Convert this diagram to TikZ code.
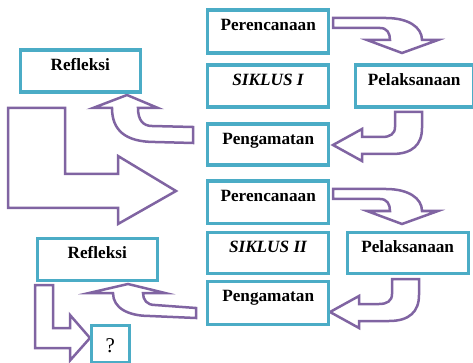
\documentclass[tikz,border=0pt]{standalone}
\usepackage{fontspec}
\setmainfont{Liberation Serif}
\usepackage{xcolor}
\usepackage{tikz}

\definecolor{kotakbiru}{RGB}{75,172,198}
\definecolor{panahungu}{RGB}{128,100,162}

\tikzset{
    kotak/.style={draw=kotakbiru, line width=3.4pt, anchor=north west, inner sep=0pt,
        text height=20.5pt, font=\fontsize{17.2}{20}\selectfont\bfseries},
    panah/.style={draw=panahungu, line width=2.5pt, fill=white, line join=miter}
}

\begin{document}
\begin{tikzpicture}[x=1pt, y=-1pt]
        \useasboundingbox (0,0) rectangle (473,363);

        \draw[panah] (8,108) -- (65,108) -- (65,174) -- (118,174) -- (118,156)
            -- (176,191) -- (118,224) -- (118,208) -- (8,208) -- cycle;
        \draw[panah] (35,285) -- (53,285) -- (53,328) -- (70,328) -- (70,315)
            -- (90,338) -- (70,360.5) -- (70,348) -- (35,348) -- cycle;

        \foreach \dy in {0, 171} {
            \draw[panah, shift={(0,\dy)}] (333,18) -- (386,18) .. controls (408,18) and (422,27) .. (422,40)
                -- (438,40) -- (402,53) -- (367,40) -- (390,40)
                .. controls (390,33) and (387,28) .. (380,28) -- (333,28) -- cycle;
        }
        \foreach \dx/\dy in {0/0, -3/167} {
            \draw[panah, shift={(\dx,\dy)}] (395,112) -- (395,127) .. controls (395,134) and (390,137) .. (382,137)
                -- (362,137) -- (362,129) -- (333,145) -- (362,161) -- (362,154) -- (392,154)
                .. controls (412,154) and (422,145) .. (422,128) -- (422,112) -- cycle;
        }
        \draw[panah] (193,127) -- (152,126) .. controls (143,126) and (138,120) .. (138,108)
            -- (158,108) -- (127,95) -- (93,108) -- (112,108)
            .. controls (112,130) and (125,142) .. (155,142) -- (193,143) -- cycle;
        \draw[panah] (196,308) -- (155,305) .. controls (147,305) and (143,300) .. (143,293)
            -- (165,293) -- (128,284) -- (89,293) -- (113,293)
            .. controls (113,308) and (128,316) .. (150,316) -- (196,318) -- cycle;

        \node[kotak, minimum width=121pt, text depth=22.5pt] (ren1) at (206,8.5) {Perencanaan};
        \node[kotak, minimum width=121pt, text depth=21.5pt] (siklus1) at (206,63.5) {\textit{SIKLUS I}};
        \node[kotak, minimum width=118pt, text depth=21.5pt] (lak1) at (353.5,63.5) {Pelaksanaan};
        \node[kotak, minimum width=121pt, text depth=20.5pt] (amat1) at (206,122.5) {Pengamatan};
        \node[kotak, minimum width=120pt, text depth=21.5pt] (ref1) at (18.5,48.5) {Refleksi};

        \node[kotak, minimum width=121pt, text depth=21.5pt] (ren2) at (206,179.5) {Perencanaan};
        \node[kotak, minimum width=121pt, text depth=21pt] (siklus2) at (206,230.5) {\textit{SIKLUS II}};
        \node[kotak, minimum width=121pt, text depth=21pt] (lak2) at (345.5,230.5) {Pelaksanaan};
        \node[kotak, minimum width=121pt, text depth=22.5pt] (amat2) at (206,279.5) {Pengamatan};
        \node[kotak, minimum width=120pt, text depth=21.5pt] (ref2) at (35.5,236.5) {Refleksi};

        \node[kotak, minimum width=38pt, text height=27pt, text depth=9.5pt,
            font=\fontsize{21}{24}\selectfont] (tanya) at (89.5,324) {?};
\end{tikzpicture}
\end{document}
